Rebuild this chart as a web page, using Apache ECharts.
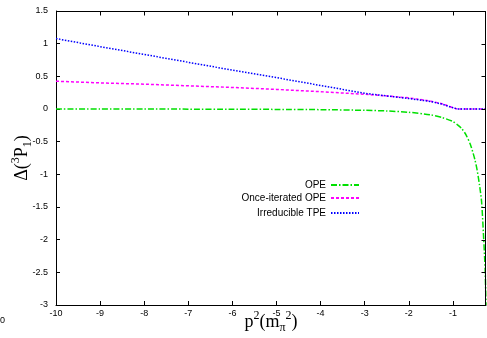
<!DOCTYPE html>
<html>
<head>
<meta charset="utf-8">
<script src="https://cdn.jsdelivr.net/npm/echarts@6/dist/echarts.min.js"></script>
<style>html,body{margin:0;padding:0;background:#fff;}#c{width:487px;height:338px;}</style>
</head>
<body>
<div id="c"></div>
<script>
// p^2 in units of m_pi^2
var pSq = [-10, -9, -8, -7, -6, -5, -4, -3, -2.5, -2, -1.5, -1.25, -1, -0.9, -0.8, -0.7, -0.6, -0.5, -0.45, -0.4, -0.35, -0.3, -0.27, -0.25];
var ope = [0.0, 0.0, 0.0, -0.002, -0.004, -0.006, -0.01, -0.02, -0.03, -0.05, -0.09, -0.13, -0.19, -0.24, -0.3, -0.4, -0.55, -0.78, -0.94, -1.15, -1.42, -2.02, -2.45, -3.0];
var onceIterOpe = [0.425, 0.40, 0.38, 0.355, 0.33, 0.30, 0.265, 0.225, 0.20, 0.17, 0.12, 0.08, 0.02, 0, 0, 0, 0, 0, 0, 0, 0, 0, 0, 0];
var irredTpe = [1.078, 0.955, 0.835, 0.715, 0.595, 0.48, 0.36, 0.24, 0.20, 0.16, 0.115, 0.075, 0.02, 0, 0, 0, 0, 0, 0, 0, 0, 0, 0, 0];
var seriesNames = ['OPE', 'Once-iterated OPE', 'Irreducible TPE'];
var xTicks = [-10, -9, -8, -7, -6, -5, -4, -3, -2, -1];
var yTicks = [-3, -2.5, -2, -1.5, -1, -0.5, 0, 0.5, 1, 1.5];
var xRange = [-10, -0.25];
var yRange = [-3, 1.5];

(function () {
  function pairs(ys) { return pSq.map(function (x, i) { return [x, ys[i]]; }); }

  var chart = echarts.init(document.getElementById('c'), null, {renderer: 'canvas'});
  var lab = {fontFamily: 'Liberation Sans', fontSize: 9, color: '#000'};
  function axLine() { return {show: true, onZero: false, lineStyle: {color: '#000', width: 1}}; }
  function tick() { return {show: true, inside: true, length: 4, lineStyle: {color: '#000', width: 1}}; }
  function legendFor(i, posTop) {
    return {
      data: [seriesNames[i]], right: 127, top: posTop, align: 'right', orient: 'vertical',
      itemWidth: 28, itemHeight: 8, padding: 0,
      itemStyle: {opacity: 0},
      textStyle: {fontFamily: 'Liberation Sans', fontSize: 10, color: '#000'}
    };
  }
  var richName = {
    a: {fontFamily: 'Liberation Serif', fontSize: 18, color: '#000', verticalAlign: 'middle'},
    s: {fontFamily: 'Liberation Serif', fontSize: 12, color: '#000', verticalAlign: 'top'},
    b: {fontFamily: 'Liberation Serif', fontSize: 12, color: '#000', verticalAlign: 'bottom'}
  };
  chart.setOption({
    animation: false,
    backgroundColor: '#fff',
    grid: {left: 56, right: 1, top: 11, bottom: 33, containLabel: false,
           outerBounds: {left: -500, top: -500, right: -500, bottom: -500}},
    legend: [legendFor(0, 180), legendFor(1, 193), legendFor(2, 208)],
    xAxis: {
      type: 'value', min: xRange[0], max: xRange[1], interval: 1, position: 'bottom',
      name: '{a|p}{s|2}{a|(m}{b|π}{s|2}{a|)}', nameLocation: 'middle', nameGap: 5, nameMoveOverlap: false,
      nameTextStyle: {rich: richName, lineHeight: 24},
      axisLine: axLine(), axisTick: tick(), splitLine: {show: false},
      axisLabel: Object.assign({margin: 4, showMaxLabel: false,
        formatter: function (v) { return xTicks.indexOf(v) >= 0 ? String(v) : ''; }}, lab)
    },
    yAxis: {
      type: 'value', min: yRange[0], max: yRange[1], interval: 0.5, position: 'left',
      name: '{a|Δ(}{s|3}{a|P}{b|1}{a|)}', nameLocation: 'middle', nameGap: 22, nameRotate: 90, nameMoveOverlap: false,
      nameTextStyle: {rich: richName, lineHeight: 24},
      axisLine: axLine(), axisTick: tick(), splitLine: {show: false},
      axisLabel: Object.assign({margin: 8}, lab)
    },
    series: [{
      name: seriesNames[0], type: 'line', data: pairs(ope), symbol: 'none', smooth: 0.25,
      lineStyle: {color: '#00e000', width: 1.5, type: [6, 2, 1.5, 2]}, itemStyle: {color: '#00e000'}
    }, {
      name: seriesNames[1], type: 'line', data: pairs(onceIterOpe), symbol: 'none',
      lineStyle: {color: '#ff00ff', width: 1.5, type: [3, 2]}, itemStyle: {color: '#ff00ff'}
    }, {
      name: seriesNames[2], type: 'line', data: pairs(irredTpe), symbol: 'none',
      lineStyle: {color: '#0000ff', width: 1.5, type: [1.5, 1.5]}, itemStyle: {color: '#0000ff'}
    }]
  });

  // mirrored frame (top and right) with inward ticks, placed through the axes' own scales
  function px(x, y) { return chart.convertToPixel({xAxisIndex: 0, yAxisIndex: 0}, [x, y]); }
  var tl = px(xRange[0], yRange[1]), tr = px(xRange[1], yRange[1]), br = px(xRange[1], yRange[0]);
  var frameTop = Math.round(tl[1]) + 0.5, frameRight = Math.round(tr[0]) - 0.5;
  var stroke = {stroke: '#000', lineWidth: 1};
  var g = [
    {type: 'line', z: 100, silent: true, shape: {x1: tl[0], y1: frameTop, x2: frameRight + 0.5, y2: frameTop}, style: stroke},
    {type: 'line', z: 100, silent: true, shape: {x1: frameRight, y1: frameTop, x2: frameRight, y2: br[1]}, style: stroke},
    {type: 'text', left: 0, top: 316, style: {text: '0', font: '9px "Liberation Sans"', fill: '#000'}}
  ];
  xTicks.forEach(function (v) {
    var p = Math.round(px(v, yRange[1])[0]) + 0.5;
    g.push({type: 'line', z: 100, silent: true, shape: {x1: p, y1: frameTop, x2: p, y2: frameTop + 4}, style: stroke});
  });
  yTicks.forEach(function (v) {
    var p = Math.round(px(xRange[1], v)[1]) + 0.5;
    g.push({type: 'line', z: 100, silent: true, shape: {x1: frameRight, y1: p, x2: frameRight - 4, y2: p}, style: stroke});
  });
  chart.setOption({graphic: g});
})();
</script>
</body>
</html>
